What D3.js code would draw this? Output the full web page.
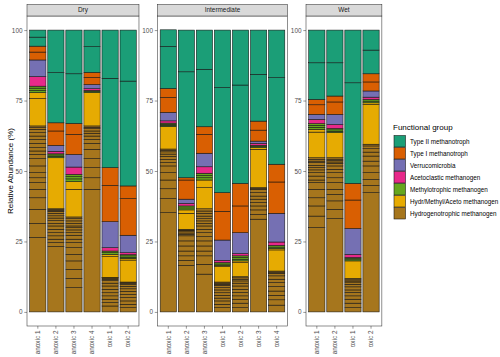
<!DOCTYPE html>
<script src="https://d3js.org/d3.v7.min.js"></script>
<style>
  body { margin: 0; background: #fff; font-family: "Liberation Sans", Arial, sans-serif; }
  .axis path { display: none; }
  .axis line { stroke: #333; stroke-width: 0.5; }
  .axis text { fill: #4d4d4d; font-size: 6.4px; }
  .seg { stroke: #111; stroke-width: 0.55; }
</style>
<body></body>
<script>

// samples, in plotting order
var sampleFacet = ["Dry","Dry","Dry","Dry","Dry","Dry",
  "Intermediate","Intermediate","Intermediate","Intermediate","Intermediate","Intermediate","Intermediate",
  "Wet","Wet","Wet","Wet"];
var sampleName = ["anoxic 1","anoxic 2","anoxic 3","anoxic 4","oxic 1","oxic 2",
  "anoxic 1","anoxic 2","anoxic 3","oxic 1","oxic 2","oxic 3","oxic 4",
  "anoxic 1","anoxic 2","oxic 1","oxic 2"];
var facets = ["Dry", "Intermediate", "Wet"];

// functional groups, legend order (top of stack first)
var groups = ["Type II methanotroph","Type I methanotroph","Verrucomicrobia","Acetoclastic methanogen",
  "Methylotrophic methanogen","Hydr/Methyl/Aceto methanogen","Hydrogenotrophic methanogen"];
var groupColors = ["#1b9e77","#d95f02","#7570b3","#e7298a","#66a61e","#e6ab02","#a6761d"];

// taxon abundances (%) per sample, bottom to top inside each group
var hydrogenotrophic = [
  [26.4,5.0,5.0,4.1,3.0,2.4,1.7,1.8,2.4,2.6,1.5,1.2,1.2,1.5,1.4,1.2,1.2,1.2,0.6,0.6],
  [23.2,1.4,1.2,1.2,1.1,1.2,1.2,0.9,1.0,0.9,0.8,0.9,0.7,0.3,0.3,0.3],
  [8.6,3.3,3.2,3.0,2.3,2.4,1.8,1.2,1.4,0.9,1.0,0.8,0.6,0.9,0.9,0.8,0.6],
  [43.5,4.1,3.6,3.2,3.3,2.1,1.4,1.2,1.0,0.8,0.8,0.5,0.5],
  [2.1,1.2,1.2,1.2,1.1,1.2,1.2,1.0,0.9,0.5,0.4,0.1,0.1],
  [1.5,1.2,1.2,1.2,1.1,1.1,0.9,0.9,0.6,0.4,0.3,0.2],
  [35.2,5.0,3.5,3.1,2.6,2.4,1.2,1.1,1.1,0.8,0.8,0.5,0.5],
  [16.5,1.8,1.6,1.7,1.8,1.8,1.8,0.5,0.5,0.7,0.3,0.3],
  [13.4,3.5,3.0,1.7,1.8,1.8,1.5,1.4,1.2,1.2,0.9,0.9,0.8,0.9,1.0,0.8,0.8],
  [1.5,1.2,1.2,1.0,1.0,0.9,1.0,0.8,0.8,0.4,0.4,0.4],
  [1.5,1.6,1.4,1.2,1.2,1.1,1.2,1.0,0.8,0.6,0.5,0.4],
  [32.9,1.7,1.6,1.4,1.2,1.2,1.1,1.2,1.2,0.3,0.3],
  [2.4,1.9,1.6,1.5,1.6,1.4,1.2,1.2,0.9,0.4,0.4],
  [29.9,4.1,3.6,2.9,3.0,2.4,0.9,1.4,1.2,1.0,0.8,0.8,1.0,0.5,0.6,0.6],
  [33.1,3.3,3.0,2.3,1.8,2.4,1.7,1.8,1.2,1.2,0.9,0.5,0.5,0.5,0.5],
  [1.5,1.6,1.4,1.2,1.2,0.9,1.1,0.9,0.8,0.4,0.4,0.5],
  [42.3,2.6,2.1,2.4,2.4,1.7,1.8,1.4,1.2,1.0,0.6]
];
var hydrMethylAceto = [
  [9.7,2.1],[18.1],[9.8,2.7],[11.8],[7.4,0.8],[7.8,0.6],
  [8.0],[5.7,1.2],[7.5,2.7],[5.5,0.4],[5.0,0.6],[13.6,0.6],[7.5,0.5],
  [9.1,1.0],[8.9],[6.2],[14.1,0.6]
];
var methylotrophic = [
  [0.8,0.8,0.7],[0.5,0.5,0.4],[1.0,0.8,0.8],[0.4,0.4],[0.6,0.6],[0.4,0.5,0.4],
  [0.4,0.4,0.4],[0.7,0.7],[0.8,0.8,0.8],[0.5,0.5],[0.6,0.6,0.6],[0.4,0.4],[0.5,0.6],
  [0.7,0.7,0.6],[0.5,0.5,0.5],[0.4,0.4,0.4],[0.6,0.6]
];
var acetoclastic = [
  [3.4],[0.9],[2.6],[0.6],[1.2],[0.7],
  [0.8],[0.9],[2.3],[0.8],[0.8],[0.7],[1.2],
  [1.5],[1.4],[1.1],[0.8]
];
var verrucomicrobia = [
  [5.9],[2.1],[4.5],[1.5],[9.2],[6.2],
  [3.0],[1.5],[4.8],[7.2],[7.4],[0.8],[10.2],
  [1.8],[3.6],[9.2],[2.2]
];
var typeI = [
  [2.8,2.1],[5.1,2.9],[7.1,3.9],[2.5,1.8],[12.9,6.3],[13.0,4.5],
  [5.3,3.2],[6.8,0.8],[6.7,2.7],[10.2,6.6],[9.5,8.0],[3.9,3.2],[11.1,6.3],
  [3.4,1.9],[4.4,2.1],[10.1,5.9],[3.2,2.9]
];
var typeII = [
  [3.2,2.5],[17.8,15.1],[17.6,15.5],[9.1,5.9],[31.7,17.1],[37.2,18.1],
  [14.9,5.9],[37.6,14.8],[20.4,13.9],[37.3,20.4],[34.9,19.5],[16.6,15.7],[30.7,16.9],
  [13.0,11.6],[11.8,11.6],[35.7,18.7],[8.4,7.1]
];
// stacking order bottom -> top, matched to groups[] index
var stackData = [hydrogenotrophic, hydrMethylAceto, methylotrophic, acetoclastic, verrucomicrobia, typeI, typeII];
var stackGroup = [6, 5, 4, 3, 2, 1, 0];
var yTicks = [0, 25, 50, 75, 100];

var W = 500, H = 357;
var svg = d3.select("body").append("svg").attr("width", W).attr("height", H);

var panelTop = 16, panelBottom = 326, stripH = 11.5;
var step = 18.06, firstLeft = 27, gap = 18.5;

var y = d3.scaleLinear().domain([-5, 105]).range([panelBottom, panelTop]);

// build flat rectangles
var segs = [];
sampleName.forEach(function(s, i) {
  var cum = 0;
  stackData.forEach(function(arr, k) {
    arr[i].forEach(function(v) {
      segs.push({i: i, facet: sampleFacet[i], g: stackGroup[k], y0: cum, y1: cum + v});
      cum += v;
    });
  });
});

var left = firstLeft;
facets.forEach(function(f) {
  var idx = d3.range(sampleName.length).filter(function(i) { return sampleFacet[i] === f; });
  var pw = step * (idx.length + 0.2);
  var x = d3.scaleBand().domain(idx).range([left, left + pw]).paddingInner(0.1).paddingOuter(0.15);

  var g = svg.append("g");
  g.append("rect").attr("x", left).attr("y", panelTop).attr("width", pw).attr("height", panelBottom - panelTop)
    .attr("fill", "#fff");

  g.selectAll("rect.seg").data(segs.filter(function(d) { return d.facet === f; }))
    .enter().append("rect").attr("class", "seg")
    .attr("x", function(d) { return x(d.i); })
    .attr("width", x.bandwidth())
    .attr("y", function(d) { return y(d.y1); })
    .attr("height", function(d) { return y(d.y0) - y(d.y1); })
    .attr("fill", function(d) { return groupColors[d.g]; });

  g.append("rect").attr("x", left).attr("y", panelTop).attr("width", pw).attr("height", panelBottom - panelTop)
    .attr("fill", "none").attr("stroke", "#333").attr("stroke-width", 0.55);

  // strip
  g.append("rect").attr("x", left).attr("y", panelTop - stripH).attr("width", pw).attr("height", stripH)
    .attr("fill", "#d9d9d9").attr("stroke", "#333").attr("stroke-width", 0.55);
  g.append("text").attr("x", left + pw / 2).attr("y", panelTop - stripH / 2).attr("dy", "0.35em")
    .attr("text-anchor", "middle").attr("font-size", 6.4).attr("fill", "#1a1a1a").text(f);

  // axes
  g.append("g").attr("class", "axis").attr("transform", "translate(" + left + ",0)")
    .call(d3.axisLeft(y).tickValues(yTicks).tickSize(2.7).tickPadding(1.8));
  var xa = g.append("g").attr("class", "axis").attr("transform", "translate(0," + panelBottom + ")")
    .call(d3.axisBottom(x).tickSize(2.7).tickFormat(function(i) { return sampleName[i]; }));
  xa.selectAll("text")
    .attr("transform", "rotate(-90)")
    .attr("text-anchor", "end")
    .attr("x", -4.5).attr("y", 0).attr("dy", "0.35em");

  left += pw + gap;
});

// y title
svg.append("text").attr("transform", "translate(10," + ((panelTop + panelBottom) / 2) + ") rotate(-90)")
  .attr("text-anchor", "middle").attr("dy", "0.35em").attr("font-size", 8).attr("fill", "#000")
  .text("Relative Abundance (%)");

// legend
var lg = svg.append("g").attr("transform", "translate(393,0)");
lg.append("text").attr("x", 0).attr("y", 129.5).attr("font-size", 8).attr("fill", "#000").text("Functional group");
var item = lg.selectAll("g.item").data(groups).enter().append("g")
  .attr("transform", function(d, i) { return "translate(0," + (135.5 + i * 12) + ")"; });
item.append("rect").attr("x", 1).attr("y", 0).attr("width", 11.5).attr("height", 11.5)
  .attr("fill", function(d, i) { return groupColors[i]; })
  .attr("stroke", "#111").attr("stroke-width", 0.55);
item.append("text").attr("x", 17).attr("y", 5.9).attr("dy", "0.35em")
  .attr("font-size", 6.3).attr("fill", "#000").text(function(d) { return d; });

</script>
